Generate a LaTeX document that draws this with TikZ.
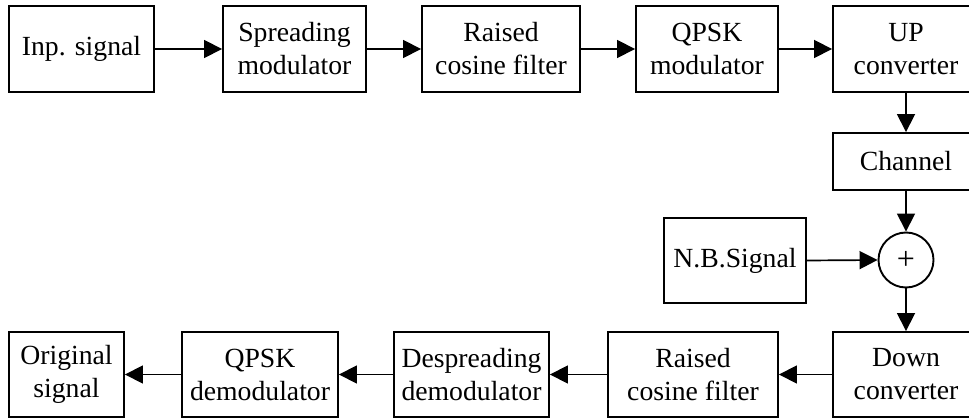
\documentclass[tikz,border=0pt]{standalone}
\usepackage{fontspec}
\setmainfont{Liberation Serif}
\usetikzlibrary{arrows.meta}
\begin{document}
\begin{tikzpicture}[x=1pt,y=-1pt,
  blk/.style={draw,line width=1.9pt,inner sep=0pt,align=center,
    font=\fontsize{27.7}{33}\selectfont,minimum height=#1},
  blk/.default=86pt,
  sumnode/.style={draw,circle,line width=1.9pt,minimum size=55pt,inner sep=0pt,
    font=\fontsize{32}{33}\selectfont},
  conn/.style={line width=1.7pt,-{Triangle[length=18pt,width=18pt]}}]
\useasboundingbox (0,0) rectangle (969,419);
% top row
\node[blk,minimum width=145pt] (inp) at (81.5,49) {Inp. signal};
\node[blk,minimum width=143pt] (spr) at (294.5,49) {Spreading\\modulator};
\node[blk,minimum width=158pt] (rc1) at (501,49) {Raised\\cosine filter};
\node[blk,minimum width=142pt] (qm) at (707,49) {QPSK\\modulator};
\node[blk,minimum width=146pt] (up) at (906,49) {UP\\converter};
% middle
\node[blk=57pt,minimum width=146pt] (ch) at (906,161.5) {Channel};
\node[sumnode] (sum) at (906,260) {+};
\node[blk=85pt,minimum width=142pt] (nb) at (735,260.5) {N.B.Signal};
% bottom row
\node[blk=85pt,minimum width=146pt] (down) at (906,374.5) {Down\\converter};
\node[blk=85pt,minimum width=170pt] (rc2) at (693,374.5) {Raised\\cosine filter};
\node[blk=85pt,minimum width=155pt] (desp) at (471.5,374.5) {Despreading\\demodulator};
\node[blk=85pt,minimum width=156pt] (qd) at (260,374.5) {QPSK\\demodulator};
\node[blk=85pt,minimum width=115pt] (orig) at (66.5,374.5) {Original\\signal};
% connectors
\draw[conn] (inp) -- (spr);
\draw[conn] (spr) -- (rc1);
\draw[conn] (rc1) -- (qm);
\draw[conn] (qm) -- (up);
\draw[conn] (up) -- (ch);
\draw[conn] (ch) -- (sum);
\draw[conn] (nb.east) -- (sum.west);
\draw[conn] (sum) -- (down);
\draw[conn] (down) -- (rc2);
\draw[conn] (rc2) -- (desp);
\draw[conn] (desp) -- (qd);
\draw[conn] (qd) -- (orig);
\end{tikzpicture}
\end{document}
